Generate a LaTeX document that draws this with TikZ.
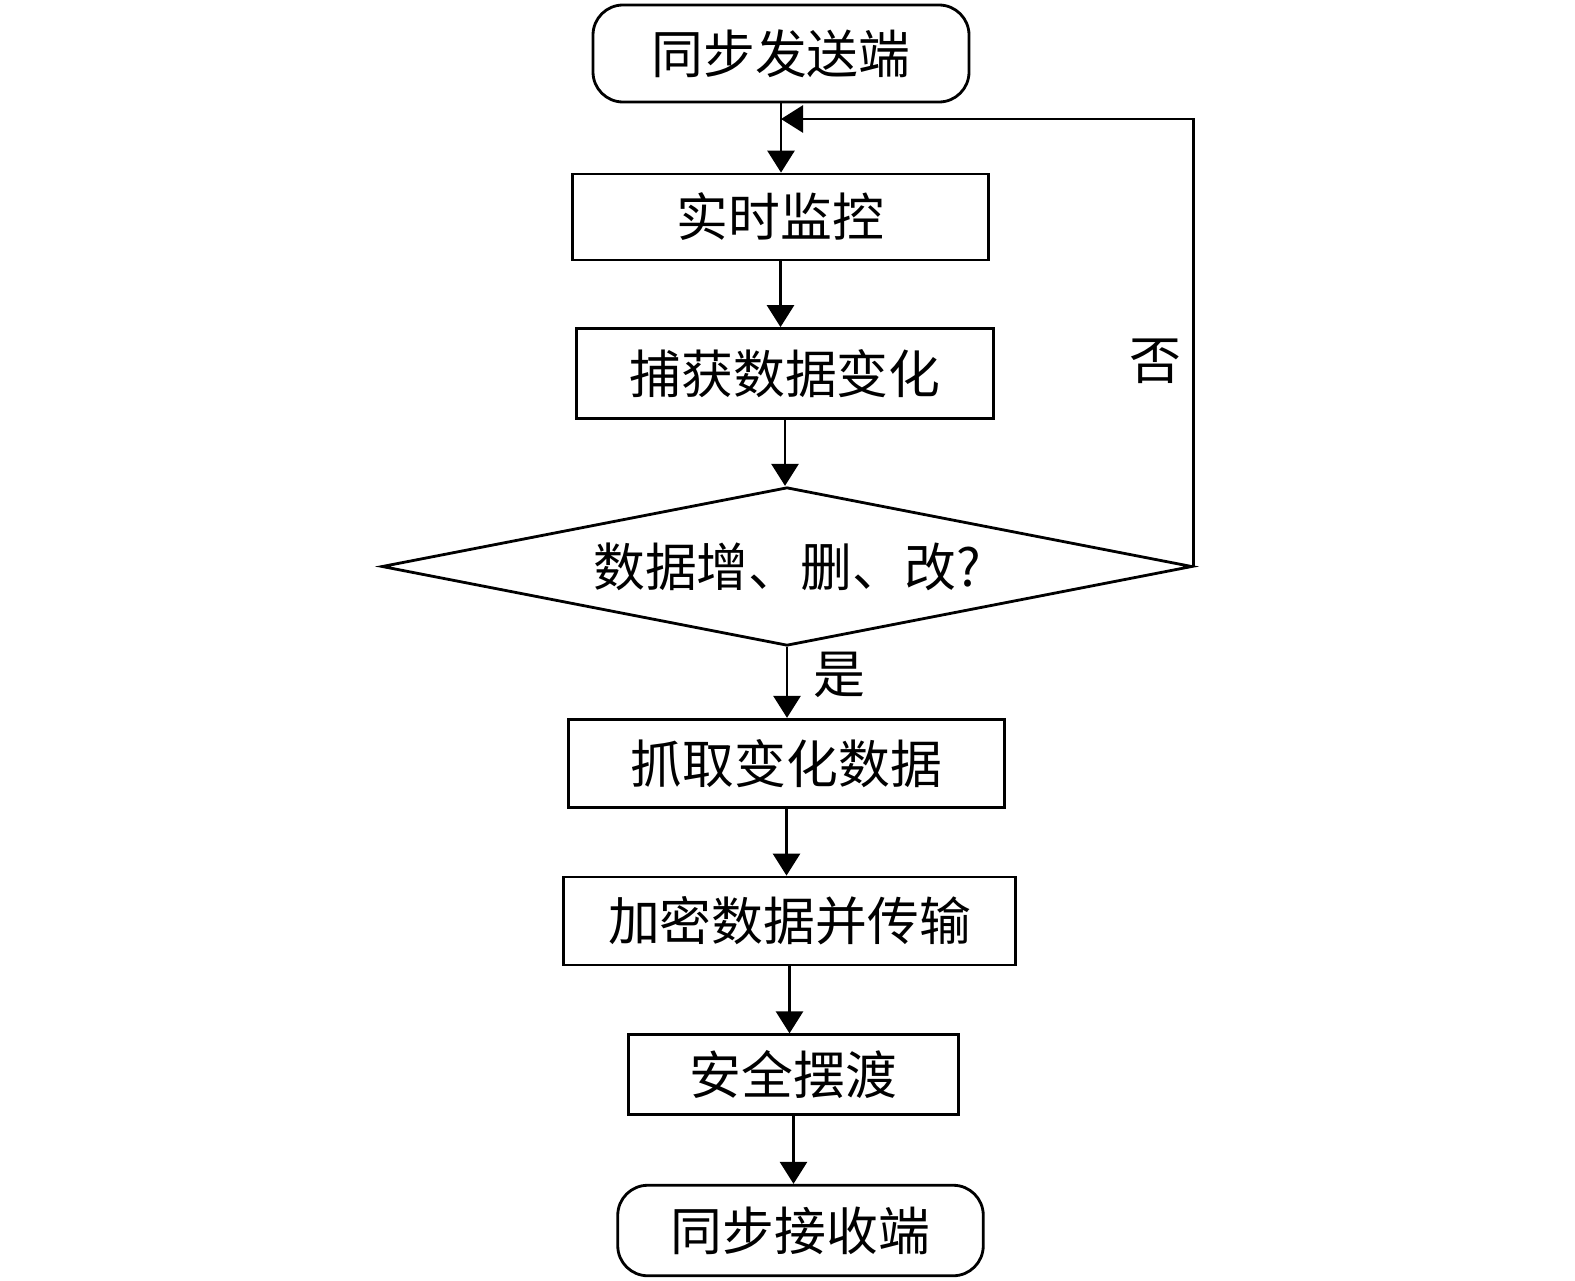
\documentclass[tikz,border=0pt]{standalone}
\usepackage{fontspec}
\newfontfamily\cjk{Noto Sans CJK SC}
\usetikzlibrary{shapes.geometric,arrows.meta}
\tikzset{
	stepbox/.style={draw, line width=1.6pt, inner sep=0pt, font=\cjk\fontsize{29.5}{35}\selectfont},
	endbox/.style={stepbox, rounded corners=0.6cm},
	judgebox/.style={stepbox, diamond, shape aspect=5},
	flow/.style={line width=1.6pt, -{Triangle[length=4.4mm,width=5.4mm]}},
	lbl/.style={font=\cjk\fontsize{29.5}{35}\selectfont}
}
\begin{document}
\begin{tikzpicture}
\useasboundingbox (0,0) rectangle (31.5,-25.6);
\node[endbox, minimum width=7.52cm, minimum height=1.94cm] (start) at (15.62,-1.07) {同步发送端};
\node[stepbox, minimum width=8.32cm, minimum height=1.72cm] (monitor) at (15.61,-4.34) {实时监控};
\node[stepbox, minimum width=8.34cm, minimum height=1.80cm] (capture) at (15.70,-7.47) {捕获数据变化};
\node[judgebox, minimum width=16.21cm, minimum height=3.17cm] (judge) at (15.74,-11.33) {数据增、删、改?};
\node[stepbox, minimum width=8.72cm, minimum height=1.77cm] (fetch) at (15.73,-15.27) {抓取变化数据};
\node[stepbox, minimum width=9.04cm, minimum height=1.76cm] (encrypt) at (15.79,-18.42) {加密数据并传输};
\node[stepbox, minimum width=6.59cm, minimum height=1.59cm] (ferry) at (15.87,-21.49) {安全摆渡};
\node[endbox, minimum width=7.31cm, minimum height=1.81cm] (stop) at (16.01,-24.61) {同步接收端};
\coordinate (corner) at (judge.east |- 0,-2.38);
\coordinate (join) at (start.south |- corner);
% main flow
\draw[flow] (start.south) -- (start.south |- monitor.north);
\draw[flow] (monitor.south) -- (monitor.south |- capture.north);
\draw[flow] (capture.south) -- (capture.south |- judge.north);
\draw[flow] (judge.south) -- (judge.south |- fetch.north);
\draw[flow] (fetch.south) -- (fetch.south |- encrypt.north);
\draw[flow] (encrypt.south) -- (encrypt.south |- ferry.north);
\draw[flow] (ferry.south) -- (ferry.south |- stop.north);
% loop back
\draw[flow] (judge.east) -- (corner) -- (join);
\node[lbl] (no) at (23.1,-7.23) {否};
\node[lbl] (yes) at (16.78,-13.5) {是};
\end{tikzpicture}
\end{document}
